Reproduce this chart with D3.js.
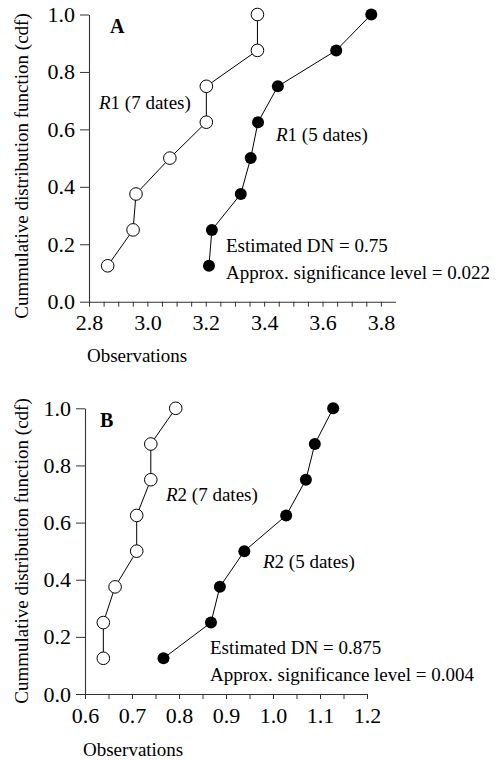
<!DOCTYPE html>
<html>
<head>
<meta charset="utf-8">
<script src="https://cdn.jsdelivr.net/npm/d3@7"></script>
<style>
  html, body { margin: 0; padding: 0; background: #fff; }
  svg { display: block; }
  text { font-family: "Liberation Serif", "Times New Roman", serif; fill: #000; }
</style>
</head>
<body>
<svg id="chart" width="499" height="760"></svg>
<script>
// ---------- DATA ----------
const cdfLevels = [0.125, 0.25, 0.375, 0.5, 0.625, 0.75, 0.875, 1.0];

// Panel A : R1
const r1SevenDates = [2.864, 2.951, 2.961, 3.077, 3.202, 3.202, 3.377, 3.377];
const r1FiveDates  = [3.211, 3.221, 3.320, 3.354, 3.379, 3.447, 3.647, 3.767];

// Panel B : R2
const r2SevenDates = [0.639, 0.639, 0.664, 0.710, 0.710, 0.740, 0.740, 0.793];
const r2FiveDates  = [0.767, 0.868, 0.887, 0.939, 1.028, 1.070, 1.089, 1.128];

// Tick labels
const yTickValues  = [0.0, 0.2, 0.4, 0.6, 0.8, 1.0];
const xTickLabelsA = [2.8, 3.0, 3.2, 3.4, 3.6, 3.8];
const xTickLabelsB = [0.6, 0.7, 0.8, 0.9, 1.0, 1.1, 1.2];

// Texts
const yTitle = "Cummulative distribution function (cdf)";
const xTitle = "Observations";
const panelA = { letter: "A", openLabel: ["R", "1 (7 dates)"], filledLabel: ["R", "1 (5 dates)"],
                 dn: "Estimated DN = 0.75", sig: "Approx. significance level = 0.022" };
const panelB = { letter: "B", openLabel: ["R", "2 (7 dates)"], filledLabel: ["R", "2 (5 dates)"],
                 dn: "Estimated DN = 0.875", sig: "Approx. significance level = 0.004" };

// ---------- DRAW ----------
const svg = d3.select("#chart");
const font = '"Liberation Serif", "Times New Roman", serif';

function drawPanel(cfg) {
  const g = svg.append("g");
  const x = d3.scaleLinear().domain(cfg.xDomain).range(cfg.xRange);
  const y = d3.scaleLinear().domain([0, 1]).range(cfg.yRange);

  // minor ticks every 0.05 up to the last labelled tick
  const last = cfg.xLabels[cfg.xLabels.length - 1];
  const first = cfg.xLabels[0];
  const allTicks = d3.range(Math.round((last - first) / 0.05) + 1).map(i => +(first + i * 0.05).toFixed(3));
  const isLabel = v => cfg.xLabels.some(l => Math.abs(l - v) < 1e-6);

  // x axis
  const xAxis = g.append("g")
    .attr("transform", `translate(0,${y(0)})`)
    .call(d3.axisBottom(x).tickValues(allTicks).tickSizeInner(5).tickSizeOuter(0).tickPadding(8)
      .tickFormat(v => isLabel(v) ? d3.format(".1f")(v) : ""));
  xAxis.select(".domain").attr("stroke", "#333").attr("stroke-width", 1.1);
  xAxis.selectAll(".tick line").attr("stroke", "#333");
  xAxis.selectAll(".tick text").attr("font-size", 22).attr("font-family", font).attr("fill", "#000");

  // y axis
  const yAxis = g.append("g")
    .attr("transform", `translate(${x(cfg.xDomain[0])},0)`)
    .call(d3.axisLeft(y).tickValues(yTickValues).tickSizeInner(9).tickSizeOuter(0).tickPadding(5)
      .tickFormat(d3.format(".1f")));
  yAxis.select(".domain").attr("stroke", "#333").attr("stroke-width", 1.1);
  yAxis.selectAll(".tick line").attr("stroke", "#333");
  yAxis.selectAll(".tick text").attr("font-size", 22).attr("font-family", font).attr("fill", "#000");

  // axis titles
  g.append("text")
    .attr("x", cfg.xTitlePos[0]).attr("y", cfg.xTitlePos[1])
    .attr("font-size", 19).text(xTitle);
  g.append("text")
    .attr("transform", `translate(${cfg.yTitlePos[0]},${cfg.yTitlePos[1]}) rotate(-90)`)
    .attr("text-anchor", "middle")
    .attr("font-size", 19).text(yTitle);

  // panel letter
  g.append("text")
    .attr("x", cfg.letterPos[0]).attr("y", cfg.letterPos[1])
    .attr("font-size", 20).attr("font-weight", "bold").text(cfg.text.letter);

  const line = d3.line().x(d => x(d[0])).y(d => y(d[1]));

  // open series
  const openPts = cfg.open.map((v, i) => [v, cdfLevels[i]]);
  g.append("path").datum(openPts).attr("d", line)
    .attr("fill", "none").attr("stroke", "#000").attr("stroke-width", 1);
  g.selectAll(".open").data(openPts).join("circle")
    .attr("cx", d => x(d[0])).attr("cy", d => y(d[1])).attr("r", 6.3)
    .attr("fill", "#fff").attr("stroke", "#000").attr("stroke-width", 1);

  // filled series
  const fillPts = cfg.filled.map((v, i) => [v, cdfLevels[i]]);
  g.append("path").datum(fillPts).attr("d", line)
    .attr("fill", "none").attr("stroke", "#000").attr("stroke-width", 1);
  g.selectAll(".filled").data(fillPts).join("circle")
    .attr("cx", d => x(d[0])).attr("cy", d => y(d[1])).attr("r", 6)
    .attr("fill", "#000");

  // series labels
  function seriesLabel(parts, pos) {
    const t = g.append("text").attr("x", pos[0]).attr("y", pos[1]).attr("font-size", 19);
    t.append("tspan").attr("font-style", "italic").text(parts[0]);
    t.append("tspan").text(parts[1]);
  }
  seriesLabel(cfg.text.openLabel, cfg.openLabelPos);
  seriesLabel(cfg.text.filledLabel, cfg.filledLabelPos);

  // statistics
  g.append("text").attr("x", cfg.statPos[0]).attr("y", cfg.statPos[1])
    .attr("font-size", 19).text(cfg.text.dn);
  g.append("text").attr("x", cfg.statPos[0]).attr("y", cfg.statPos[1] + 27)
    .attr("font-size", 19).text(cfg.text.sig);
}

drawPanel({
  xDomain: [2.8, 3.85], xRange: [89, 395.5], yRange: [301.7, 14.5],
  xLabels: xTickLabelsA, open: r1SevenDates, filled: r1FiveDates, text: panelA,
  xTitlePos: [87, 362], yTitlePos: [28, 166], letterPos: [110, 33],
  openLabelPos: [99, 109], filledLabelPos: [276, 141], statPos: [226, 252]
});

drawPanel({
  xDomain: [0.6, 1.2], xRange: [85, 367], yRange: [694, 408.3],
  xLabels: xTickLabelsB, open: r2SevenDates, filled: r2FiveDates, text: panelB,
  xTitlePos: [83, 756], yTitlePos: [28, 551], letterPos: [100, 427],
  openLabelPos: [166, 501], filledLabelPos: [263, 568], statPos: [210, 654]
});
</script>
</body>
</html>
